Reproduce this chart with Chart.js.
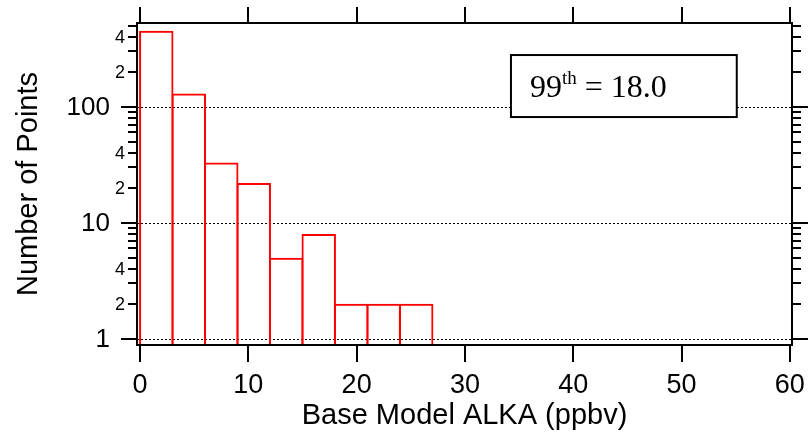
<!DOCTYPE html>
<html>
<head>
<meta charset="utf-8">
<title>Base Model ALKA histogram</title>
<script src="https://cdn.jsdelivr.net/npm/chart.js@4.4.1/dist/chart.umd.min.js"></script>
<style>
    html, body { margin: 0; padding: 0; background: #fff; }
</style>
</head>
<body>
<canvas id="histChart" width="812" height="444"></canvas>
<script>
// histogram bins (ppbv) and number of points in each bin
const binStarts = [0, 3, 6, 9, 12, 15, 18, 21, 24];
const binWidth = 3;
const counts = [452, 130, 33, 22, 5, 8, 2, 2, 2];

// axis ticks
const xTicks = [0, 10, 20, 30, 40, 50, 60];
const yMajor = [1, 10, 100];
const yLabelled = [2, 4, 20, 40, 200, 400];
const yLabelText = { 1: '1', 10: '10', 100: '100', 2: '2', 4: '4', 20: '2', 40: '4', 200: '2', 400: '4' };

// text box
const pctName = '99';
const pctSuffix = 'th';
const pctValue = '18.0';

const X_MIN = -0.28, X_MAX = 60.2;
const Y_MIN = 0.883, Y_MAX = 527;
const SANS = '"Liberation Sans", Arial, sans-serif';
const SERIF = '"Liberation Serif", "Times New Roman", serif';

function minorTicks(scale) {
    const out = [];
    yMajor.forEach(d => {
        for (let k = 1; k <= 9; k++) {
            const v = k * d;
            if (v >= scale.min && v <= scale.max) out.push(v);
        }
    });
    return out;
}

const axisDecor = {
    id: 'axisDecor',
    beforeDatasetsDraw(chart) {
        const { ctx, chartArea } = chart;
        const y = chart.scales.y;
        ctx.save();
        ctx.strokeStyle = '#000';
        ctx.lineWidth = 1;
        ctx.setLineDash([2, 2]);
        yMajor.forEach(v => {
            const py = Math.round(y.getPixelForValue(v)) + 0.5;
            ctx.beginPath();
            ctx.moveTo(chartArea.left, py);
            ctx.lineTo(chartArea.right, py);
            ctx.stroke();
        });
        ctx.restore();
    },
    afterDatasetsDraw(chart) {
        const { ctx, chartArea } = chart;
        const x = chart.scales.x;
        const y = chart.scales.y;
        const L = chartArea.left, R = chartArea.right, T = chartArea.top, B = chartArea.bottom;

        ctx.save();
        ctx.strokeStyle = '#000';
        ctx.lineWidth = 2;
        ctx.strokeRect(L, T, R - L, B - T);

        // x ticks, bottom and top
        ctx.beginPath();
        xTicks.forEach(v => {
            const px = Math.round(x.getPixelForValue(v));
            ctx.moveTo(px, B); ctx.lineTo(px, B + 17);
            ctx.moveTo(px, T); ctx.lineTo(px, T - 16);
        });
        // y ticks, left and right
        minorTicks(y).forEach(v => {
            const py = Math.round(y.getPixelForValue(v));
            const len = yMajor.includes(v) ? 16 : 9;
            ctx.moveTo(L, py); ctx.lineTo(L - len, py);
            ctx.moveTo(R, py); ctx.lineTo(R + len, py);
        });
        ctx.stroke();

        // y tick labels
        ctx.fillStyle = '#000';
        ctx.textAlign = 'right';
        ctx.textBaseline = 'middle';
        yMajor.forEach(v => {
            ctx.font = '26px ' + SANS;
            ctx.fillText(yLabelText[v], L - 27, y.getPixelForValue(v) + 1);
        });
        yLabelled.forEach(v => {
            ctx.font = '18px ' + SANS;
            ctx.fillText(yLabelText[v], L - 12, y.getPixelForValue(v) + 1);
        });
        ctx.restore();
    },
    afterDraw(chart) {
        const { ctx } = chart;
        const x = chart.scales.x;
        const y = chart.scales.y;
        const bx0 = x.getPixelForValue(34.25), bx1 = x.getPixelForValue(55.1);
        const by0 = y.getPixelForValue(279), by1 = y.getPixelForValue(81.5);
        ctx.save();
        ctx.fillStyle = '#fff';
        ctx.fillRect(bx0, by0, bx1 - bx0, by1 - by0);
        ctx.strokeStyle = '#000';
        ctx.lineWidth = 2;
        ctx.strokeRect(bx0, by0, bx1 - bx0, by1 - by0);

        ctx.fillStyle = '#000';
        ctx.textAlign = 'left';
        ctx.textBaseline = 'alphabetic';
        let tx = bx0 + 19;
        const base = by0 + 42;
        ctx.font = '32px ' + SERIF;
        ctx.fillText(pctName, tx, base);
        tx += ctx.measureText(pctName).width;
        ctx.font = '19px ' + SERIF;
        ctx.fillText(pctSuffix, tx, base - 13);
        tx += ctx.measureText(pctSuffix).width;
        ctx.font = '32px ' + SERIF;
        ctx.fillText(' = ' + pctValue, tx, base);
        ctx.restore();
    }
};

const ctx = document.getElementById('histChart').getContext('2d');
new Chart(ctx, {
    type: 'bar',
    data: {
        datasets: [{
            data: binStarts.map((s, i) => ({ x: s + binWidth / 2, y: counts[i] })),
            backgroundColor: 'rgba(0,0,0,0)',
            borderColor: '#ff0000',
            borderWidth: 2,
            borderSkipped: 'bottom',
            base: Y_MIN,
            barPercentage: 1.06,
            categoryPercentage: 1
        }]
    },
    options: {
        responsive: false,
        animation: false,
        layout: { padding: { top: 23, right: 20, left: 0, bottom: 0 } },
        plugins: {
            legend: { display: false },
            tooltip: { enabled: false }
        },
        scales: {
            x: {
                type: 'linear',
                offset: false,
                min: X_MIN,
                max: X_MAX,
                afterBuildTicks: scale => { scale.ticks = xTicks.map(v => ({ value: v })); },
                afterFit: scale => {
                    scale.height = 99;
                    scale.paddingLeft = 0;
                    scale.paddingRight = 0;
                },
                grid: { display: false, drawTicks: false },
                border: { display: false },
                ticks: {
                    padding: 24,
                    color: '#000',
                    maxRotation: 0,
                    font: { family: SANS, size: 27 }
                },
                title: {
                    display: true,
                    text: 'Base Model ALKA (ppbv)',
                    color: '#000',
                    font: { family: SANS, size: 29 },
                    padding: { top: 0, bottom: 11 }
                }
            },
            y: {
                type: 'logarithmic',
                min: Y_MIN,
                max: Y_MAX,
                afterFit: scale => {
                    scale.width = 137;
                    scale.paddingTop = 0;
                    scale.paddingBottom = 0;
                },
                grid: { display: false, drawTicks: false },
                border: { display: false },
                ticks: { display: false },
                title: {
                    display: true,
                    text: 'Number of Points',
                    color: '#000',
                    font: { family: SANS, size: 29 },
                    padding: { top: 12, bottom: 0 }
                }
            }
        }
    },
    plugins: [axisDecor]
});
</script>
</body>
</html>
